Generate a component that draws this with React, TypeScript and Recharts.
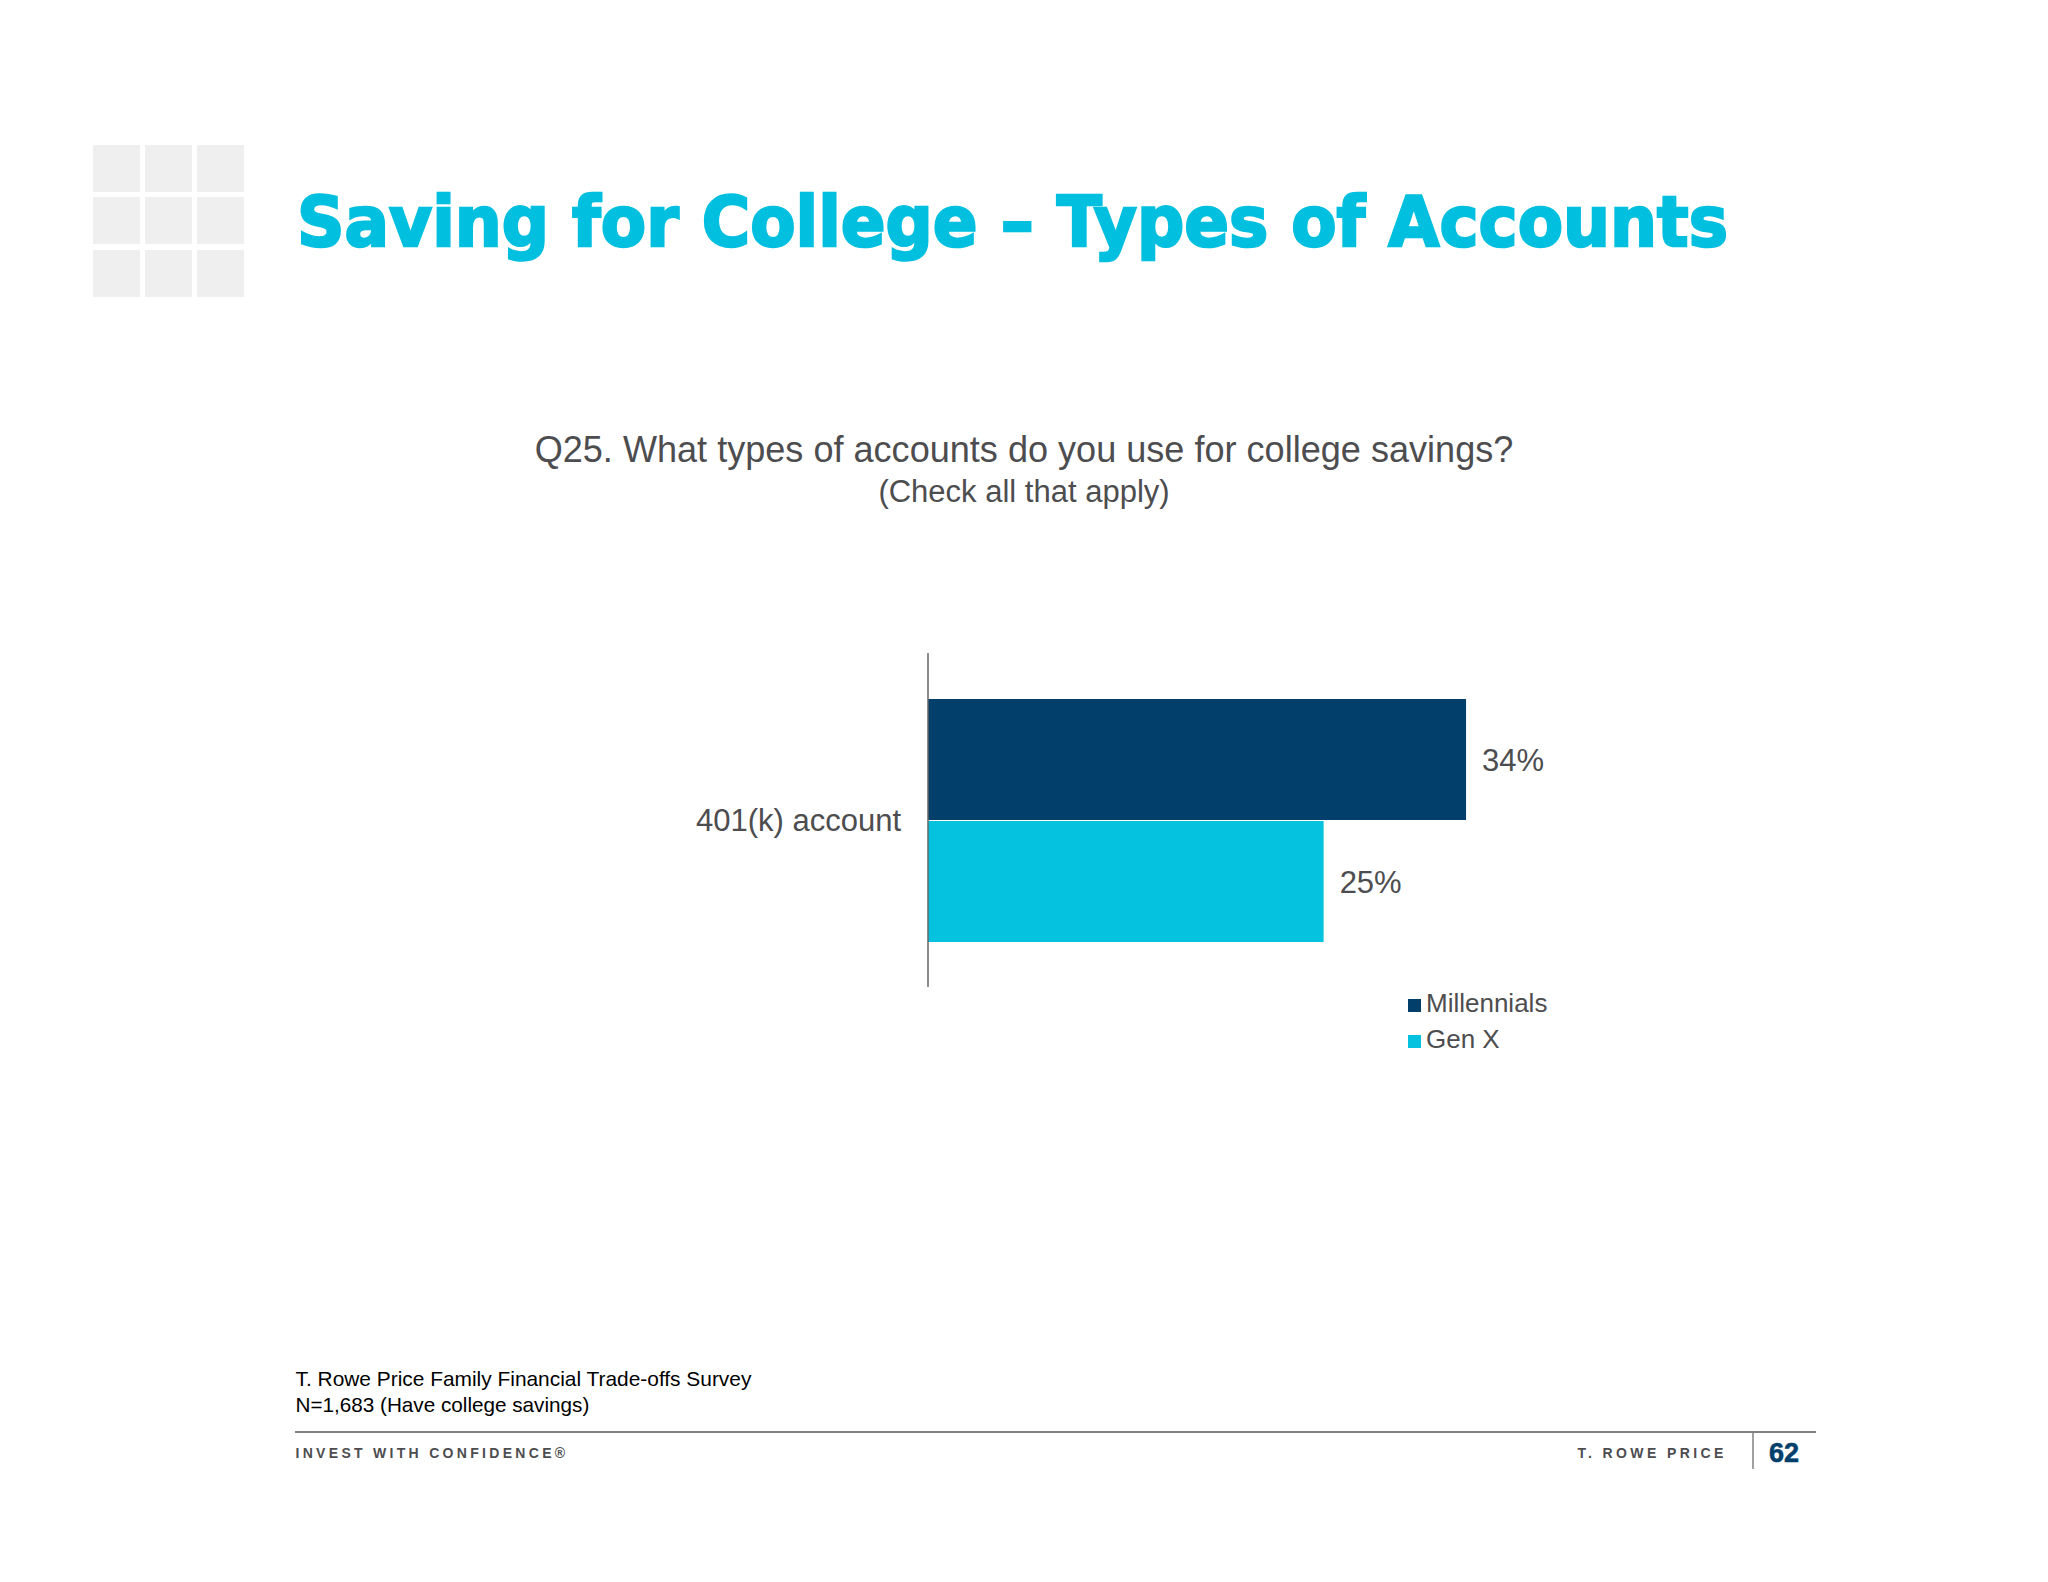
import { Bar, BarChart, LabelList, Legend, XAxis, YAxis } from "recharts";

const categories = ["401(k) account"];
const millennials = [34];
const genX = [25];
const seriesNames = ["Millennials", "Gen X"];

const NAVY = "#02406B";
const CYAN = "#05C3DE";
const GREY = "#4D4D4F";
const FONT = "'Liberation Sans', Arial, sans-serif";

const rows = categories.map((name, i) => ({
  name,
  millennials: millennials[i],
  genX: genX[i],
}));

const logoCols = [93, 145, 197];
const logoRows = [145, 197, 250];

function SlideText() {
  return (
    <svg width={2048} height={1582} style={{ position: "absolute", left: 0, top: 0 }} fontFamily={FONT}>
      {logoRows.map((y) =>
        logoCols.map((x) => <rect key={`${x}-${y}`} x={x} y={y} width={47} height={47} fill="#EFEFEF" />),
      )}
      <text
        x={297}
        y={246}
        fontSize={70}
        fontWeight={700}
        fontFamily="'DejaVu Sans', sans-serif"
        fill="#00BFDF"
        stroke="#00BFDF"
        strokeWidth={2.5}
        textLength={1431}
        lengthAdjust="spacingAndGlyphs"
      >
        Saving for College – Types of Accounts
      </text>
      <text x={1024} y={462} fontSize={36.1} fill={GREY} textAnchor="middle">
        Q25. What types of accounts do you use for college savings?
      </text>
      <text x={1024} y={502} fontSize={31} fill={GREY} textAnchor="middle">
        (Check all that apply)
      </text>
      <text x={295.5} y={1386} fontSize={20.9} fill="#000">
        T. Rowe Price Family Financial Trade-offs Survey
      </text>
      <text x={295.5} y={1412} fontSize={20.7} fill="#000">
        N=1,683 (Have college savings)
      </text>
      <line x1={295} x2={1816} y1={1432} y2={1432} stroke="#808080" strokeWidth={2} />
      <line x1={1753} x2={1753} y1={1432} y2={1469} stroke="#808080" strokeWidth={1.5} />
      <text x={295.5} y={1457.5} fontSize={14} fontWeight={700} fill={GREY} letterSpacing={3.3}>
        INVEST WITH CONFIDENCE®
      </text>
      <text x={1577.5} y={1457.5} fontSize={14} fontWeight={700} fill={GREY} letterSpacing={3.4}>
        T. ROWE PRICE
      </text>
      <text x={1769} y={1462} fontSize={27} fontWeight={700} fill={NAVY} stroke={NAVY} strokeWidth={0.6}>
        62
      </text>
    </svg>
  );
}

export default function App() {
  return (
    <div style={{ position: "absolute", left: 0, top: 0, width: 2048, height: 1582, background: "#fff" }}>
      <SlideText />
      <div style={{ position: "absolute", left: 0, top: 0 }}>
        <BarChart
          width={2048}
          height={1100}
          data={rows}
          layout="vertical"
          margin={{ top: 653, right: 487, bottom: 41, left: 0 }}
          barCategoryGap={46}
          barGap={1}
        >
          <XAxis type="number" domain={[0, 40]} hide />
          <YAxis
            type="category"
            dataKey="name"
            width={928}
            tickLine={false}
            tickMargin={21}
            axisLine={{ stroke: "#666666", strokeWidth: 1.5 }}
            tick={{ fontSize: 31, fill: GREY, fontFamily: FONT }}
          />
          <Legend
            layout="vertical"
            iconType="square"
            iconSize={13}
            itemSorter={null}
            wrapperStyle={{ position: "absolute", left: 1408, top: 985, width: 300, fontFamily: FONT, fontSize: 26, lineHeight: "36px" }}
            formatter={(value) => <span style={{ color: GREY, marginLeft: 1 }}>{value}</span>}
          />
          <Bar dataKey="millennials" name={seriesNames[0]} fill={NAVY} isAnimationActive={false}>
            <LabelList
              dataKey="millennials"
              position="right"
              offset={16}
              formatter={(v) => `${v}%`}
              style={{ fontSize: 31, fill: GREY, fontFamily: FONT }}
            />
          </Bar>
          <Bar dataKey="genX" name={seriesNames[1]} fill={CYAN} isAnimationActive={false}>
            <LabelList
              dataKey="genX"
              position="right"
              offset={16}
              formatter={(v) => `${v}%`}
              style={{ fontSize: 31, fill: GREY, fontFamily: FONT }}
            />
          </Bar>
        </BarChart>
      </div>
    </div>
  );
}
